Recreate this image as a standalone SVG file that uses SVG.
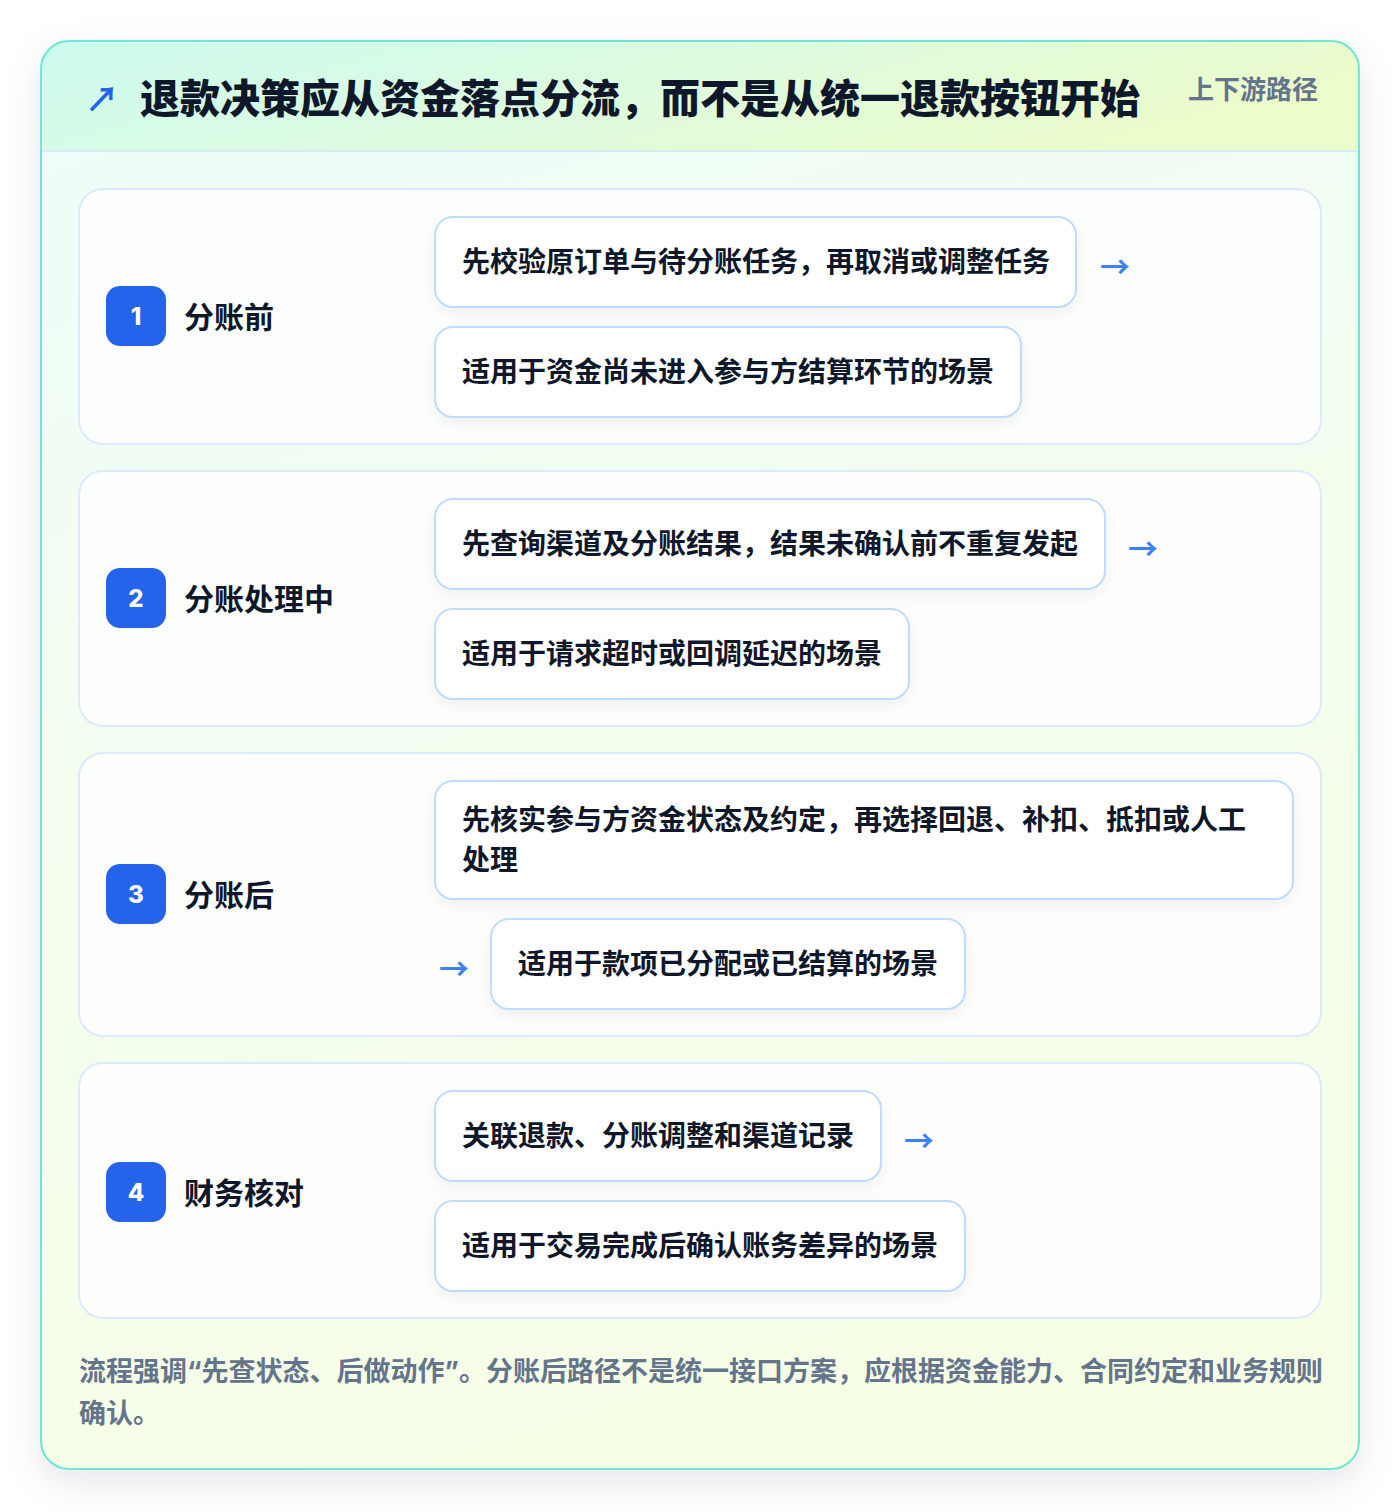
<svg xmlns="http://www.w3.org/2000/svg" width="1400" height="1512" viewBox="0 0 1400 1512">
<defs>
  <linearGradient id="hdrGrad" x1="0" y1="0" x2="1" y2="0.3">
    <stop offset="0" stop-color="#cdfbef"/>
    <stop offset="0.5" stop-color="#dcfbe0"/>
    <stop offset="1" stop-color="#ecfccb"/>
  </linearGradient>
  <linearGradient id="bodyGrad" x1="0" y1="0" x2="0.3" y2="1">
    <stop offset="0" stop-color="#effdf9"/>
    <stop offset="1" stop-color="#f6fee6"/>
  </linearGradient>
  <clipPath id="cardClip">
    <rect x="41" y="41" width="1318" height="1428" rx="28"/>
  </clipPath>
  <filter id="outerShadow" x="-10%" y="-10%" width="120%" height="120%">
    <feDropShadow dx="0" dy="12" stdDeviation="18" flood-color="#0f172a" flood-opacity="0.10"/>
  </filter>
  <filter id="boxShadow" x="-10%" y="-30%" width="120%" height="160%">
    <feDropShadow dx="0" dy="6" stdDeviation="8" flood-color="#0f172a" flood-opacity="0.06"/>
  </filter>
  <style>
    .t { font-family: Inter, "Noto Sans CJK SC", "Noto Sans", sans-serif; }
    .title { font-size: 40px; font-weight: 900; fill: #0f172a; }
    .tag { font-size: 26px; font-weight: 700; fill: #64748b; }
    .card { fill: #ffffff; fill-opacity: 0.85; stroke: #dbeafe; stroke-width: 2; }
    .badge { fill: #2563eb; }
    .num { font-size: 24px; font-weight: 800; fill: #ffffff; text-anchor: middle; }
    .label { font-size: 30px; font-weight: 700; fill: #0f172a; }
    .box { fill: #ffffff; stroke: #bfdbfe; stroke-width: 2; }
    .item { font-size: 28px; font-weight: 700; fill: #0f172a; }
    .arrow { font-family: "Noto Sans CJK SC", sans-serif; font-size: 30px; font-weight: 700; fill: #3b82f6; }
    .foot { font-size: 27px; font-weight: 700; fill: #64748b; }
  </style>
</defs>
<rect x="0" y="0" width="1400" height="1512" fill="#ffffff"/>

<g id="frame">
  <rect x="41" y="41" width="1318" height="1428" rx="28" fill="url(#bodyGrad)" filter="url(#outerShadow)"/>
  <g clip-path="url(#cardClip)">
    <rect x="41" y="41" width="1318" height="110" fill="url(#hdrGrad)"/>
    <line x1="41" y1="151" x2="1359" y2="151" stroke="#d6ecf5" stroke-width="2"/>
  </g>
  <rect x="41" y="41" width="1318" height="1428" rx="28" fill="none" stroke="#6ee7d4" stroke-width="2"/>
</g>

<g id="header">
  <text x="85" y="112" font-family="'Noto Sans CJK SC', sans-serif" font-size="34" font-weight="700" fill="#2563eb">↗</text>
  <text class="t title" x="140" y="113">退款决策应从资金落点分流，而不是从统一退款按钮开始</text>
  <text class="t tag" x="1188" y="99">上下游路径</text>
</g>

<g id="step1">
  <rect class="card" x="79" y="189" width="1242" height="255" rx="24"/>
  <rect class="badge" x="106" y="286" width="60" height="60" rx="14"/>
  <text class="t num" x="136" y="325">1</text>
  <text class="t label" x="184" y="328">分账前</text>
  <g id="step1-a">
    <rect class="box" x="435" y="217" width="641" height="90" rx="18" filter="url(#boxShadow)"/>
    <text class="t item" x="462" y="272">先校验原订单与待分账任务，再取消或调整任务</text>
  </g>
  <g id="step1-b">
    <rect class="box" x="435" y="327" width="586" height="90" rx="18" filter="url(#boxShadow)"/>
    <text class="t item" x="462" y="382">适用于资金尚未进入参与方结算环节的场景</text>
  </g>
</g>

<g id="step2">
  <rect class="card" x="79" y="471" width="1242" height="255" rx="24"/>
  <rect class="badge" x="106" y="568" width="60" height="60" rx="14"/>
  <text class="t num" x="136" y="607">2</text>
  <text class="t label" x="184" y="610">分账处理中</text>
  <g id="step2-a">
    <rect class="box" x="435" y="499" width="670" height="90" rx="18" filter="url(#boxShadow)"/>
    <text class="t item" x="462" y="554">先查询渠道及分账结果，结果未确认前不重复发起</text>
  </g>
  <g id="step2-b">
    <rect class="box" x="435" y="609" width="474" height="90" rx="18" filter="url(#boxShadow)"/>
    <text class="t item" x="462" y="664">适用于请求超时或回调延迟的场景</text>
  </g>
</g>

<g id="step3">
  <rect class="card" x="79" y="753" width="1242" height="283" rx="24"/>
  <rect class="badge" x="106" y="864" width="60" height="60" rx="14"/>
  <text class="t num" x="136" y="903">3</text>
  <text class="t label" x="184" y="906">分账后</text>
  <g id="step3-a">
    <rect class="box" x="435" y="781" width="858" height="118" rx="18" filter="url(#boxShadow)"/>
    <text class="t item" x="462" y="830">先核实参与方资金状态及约定，再选择回退、补扣、抵扣或人工</text>
    <text class="t item" x="462" y="870">处理</text>
  </g>
  <g id="step3-b">
    <rect class="box" x="491" y="919" width="474" height="90" rx="18" filter="url(#boxShadow)"/>
    <text class="t item" x="518" y="974">适用于款项已分配或已结算的场景</text>
  </g>
</g>

<g id="step4">
  <rect class="card" x="79" y="1063" width="1242" height="255" rx="24"/>
  <rect class="badge" x="106" y="1162" width="60" height="60" rx="14"/>
  <text class="t num" x="136" y="1201">4</text>
  <text class="t label" x="184" y="1204">财务核对</text>
  <g id="step4-a">
    <rect class="box" x="435" y="1091" width="446" height="90" rx="18" filter="url(#boxShadow)"/>
    <text class="t item" x="462" y="1146">关联退款、分账调整和渠道记录</text>
  </g>
  <g id="step4-b">
    <rect class="box" x="435" y="1201" width="530" height="90" rx="18" filter="url(#boxShadow)"/>
    <text class="t item" x="462" y="1256">适用于交易完成后确认账务差异的场景</text>
  </g>
</g>

<g id="connectors">
  <text class="arrow" x="1100" y="278">→</text>
  <text class="arrow" x="1128" y="560">→</text>
  <text class="arrow" x="439" y="980">→</text>
  <text class="arrow" x="904" y="1152">→</text>
</g>

<g id="footer">
  <text class="t foot" x="79" y="1381">流程强调“先查状态、后做动作”。分账后路径不是统一接口方案，应根据资金能力、合同约定和业务规则</text>
  <text class="t foot" x="79" y="1423">确认。</text>
</g>
</svg>
